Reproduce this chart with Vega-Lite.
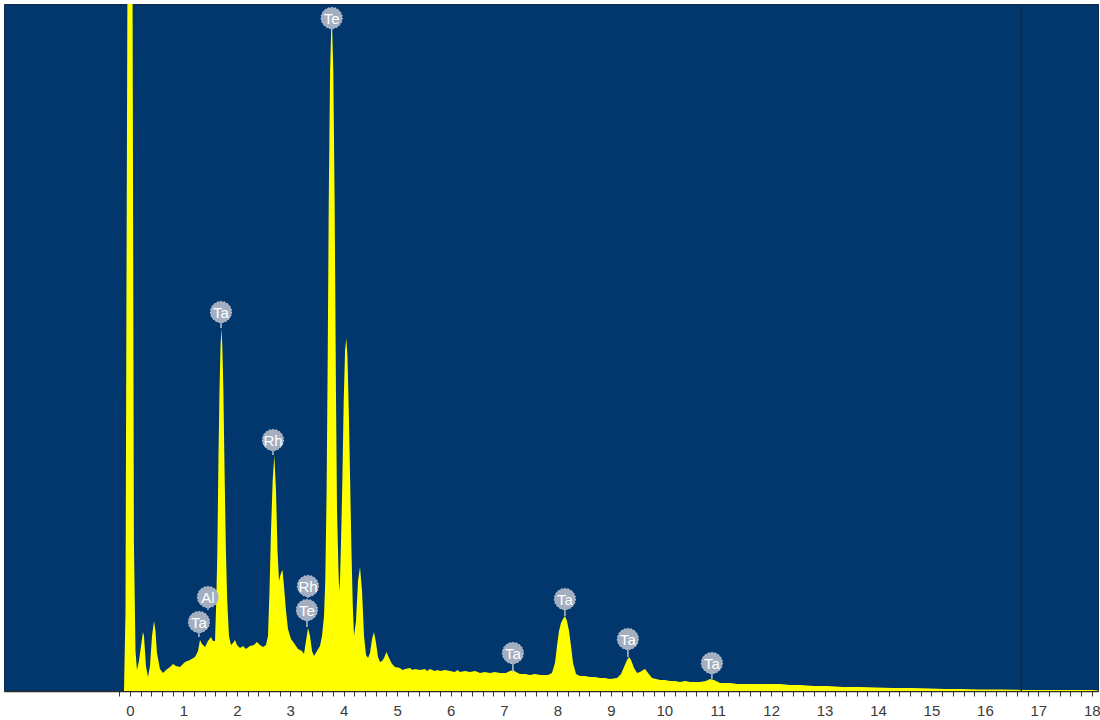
{
  "$schema": "https://vega.github.io/schema/vega-lite/v6.json",
  "autosize": {"type": "none"},
  "width": 1094,
  "height": 687,
  "padding": {"left": 4, "top": 4, "right": 2, "bottom": 29},
  "background": "white",
  "config": {
    "view": {"fill": "#02376e", "stroke": "#0d2a4a", "strokeWidth": 1},
    "axis": {"labelFont": "Liberation Sans", "labelFontSize": 15, "labelColor": "#3a3a3a", "domainColor": "#2b2b2b", "tickColor": "#333333", "grid": false}
  },
  "datasets": {
    "spectrum": [
      {"e": -0.112, "c": 0}, {"e": -0.084, "c": 80}, {"e": -0.066, "c": 400}, {"e": -0.047, "c": 720},
      {"e": 0.047, "c": 720}, {"e": 0.073, "c": 150}, {"e": 0.103, "c": 40}, {"e": 0.131, "c": 21},
      {"e": 0.168, "c": 30}, {"e": 0.206, "c": 45}, {"e": 0.243, "c": 59}, {"e": 0.262, "c": 55},
      {"e": 0.299, "c": 25}, {"e": 0.337, "c": 14}, {"e": 0.374, "c": 25}, {"e": 0.412, "c": 55},
      {"e": 0.449, "c": 70}, {"e": 0.477, "c": 60}, {"e": 0.505, "c": 38}, {"e": 0.561, "c": 22},
      {"e": 0.618, "c": 18}, {"e": 0.674, "c": 21}, {"e": 0.749, "c": 24}, {"e": 0.805, "c": 27},
      {"e": 0.861, "c": 25}, {"e": 0.936, "c": 24}, {"e": 1.029, "c": 29}, {"e": 1.123, "c": 31},
      {"e": 1.217, "c": 34}, {"e": 1.273, "c": 40}, {"e": 1.310, "c": 51}, {"e": 1.348, "c": 47},
      {"e": 1.404, "c": 44}, {"e": 1.460, "c": 50}, {"e": 1.516, "c": 54}, {"e": 1.553, "c": 50},
      {"e": 1.591, "c": 50}, {"e": 1.615, "c": 90}, {"e": 1.635, "c": 140}, {"e": 1.655, "c": 230},
      {"e": 1.675, "c": 300}, {"e": 1.695, "c": 345}, {"e": 1.712, "c": 363}, {"e": 1.728, "c": 345},
      {"e": 1.748, "c": 300}, {"e": 1.770, "c": 220}, {"e": 1.795, "c": 140}, {"e": 1.820, "c": 90},
      {"e": 1.853, "c": 55}, {"e": 1.890, "c": 46}, {"e": 1.928, "c": 48}, {"e": 1.965, "c": 51},
      {"e": 2.003, "c": 46}, {"e": 2.059, "c": 43}, {"e": 2.115, "c": 45}, {"e": 2.171, "c": 42},
      {"e": 2.246, "c": 45}, {"e": 2.321, "c": 46}, {"e": 2.377, "c": 49}, {"e": 2.433, "c": 46},
      {"e": 2.490, "c": 44}, {"e": 2.546, "c": 46}, {"e": 2.583, "c": 55}, {"e": 2.611, "c": 100},
      {"e": 2.639, "c": 160}, {"e": 2.671, "c": 211}, {"e": 2.701, "c": 236}, {"e": 2.733, "c": 200},
      {"e": 2.761, "c": 140}, {"e": 2.789, "c": 110}, {"e": 2.826, "c": 118}, {"e": 2.854, "c": 121},
      {"e": 2.882, "c": 105}, {"e": 2.920, "c": 80}, {"e": 2.957, "c": 62}, {"e": 3.013, "c": 52},
      {"e": 3.069, "c": 48}, {"e": 3.144, "c": 42}, {"e": 3.219, "c": 40}, {"e": 3.257, "c": 37},
      {"e": 3.294, "c": 50}, {"e": 3.332, "c": 63}, {"e": 3.369, "c": 55}, {"e": 3.407, "c": 40},
      {"e": 3.444, "c": 35}, {"e": 3.500, "c": 40}, {"e": 3.556, "c": 45}, {"e": 3.594, "c": 55},
      {"e": 3.631, "c": 75}, {"e": 3.655, "c": 110}, {"e": 3.680, "c": 200}, {"e": 3.700, "c": 330},
      {"e": 3.720, "c": 490}, {"e": 3.745, "c": 620}, {"e": 3.765, "c": 661}, {"e": 3.785, "c": 661},
      {"e": 3.805, "c": 620}, {"e": 3.830, "c": 490}, {"e": 3.855, "c": 300}, {"e": 3.875, "c": 180},
      {"e": 3.900, "c": 125}, {"e": 3.915, "c": 100}, {"e": 3.930, "c": 110}, {"e": 3.950, "c": 150},
      {"e": 3.975, "c": 211}, {"e": 4.000, "c": 290}, {"e": 4.025, "c": 340}, {"e": 4.048, "c": 353},
      {"e": 4.070, "c": 335}, {"e": 4.095, "c": 280}, {"e": 4.120, "c": 211}, {"e": 4.145, "c": 140},
      {"e": 4.170, "c": 85}, {"e": 4.193, "c": 55}, {"e": 4.230, "c": 70}, {"e": 4.268, "c": 110},
      {"e": 4.305, "c": 124}, {"e": 4.343, "c": 100}, {"e": 4.380, "c": 55}, {"e": 4.418, "c": 36},
      {"e": 4.455, "c": 33}, {"e": 4.492, "c": 38}, {"e": 4.530, "c": 52}, {"e": 4.567, "c": 59},
      {"e": 4.605, "c": 48}, {"e": 4.642, "c": 34}, {"e": 4.680, "c": 29}, {"e": 4.717, "c": 30},
      {"e": 4.755, "c": 33}, {"e": 4.801, "c": 39}, {"e": 4.848, "c": 33}, {"e": 4.904, "c": 27},
      {"e": 4.960, "c": 24}, {"e": 5.053, "c": 23}, {"e": 5.100, "c": 21}, {"e": 5.150, "c": 22},
      {"e": 5.240, "c": 23}, {"e": 5.290, "c": 21}, {"e": 5.330, "c": 22}, {"e": 5.428, "c": 21},
      {"e": 5.520, "c": 22}, {"e": 5.560, "c": 20}, {"e": 5.615, "c": 22}, {"e": 5.700, "c": 20},
      {"e": 5.760, "c": 21}, {"e": 5.802, "c": 20}, {"e": 5.900, "c": 21}, {"e": 5.989, "c": 20},
      {"e": 6.080, "c": 19}, {"e": 6.130, "c": 21}, {"e": 6.176, "c": 19}, {"e": 6.270, "c": 20},
      {"e": 6.363, "c": 19}, {"e": 6.460, "c": 20}, {"e": 6.551, "c": 18}, {"e": 6.640, "c": 19},
      {"e": 6.738, "c": 18}, {"e": 6.830, "c": 19}, {"e": 6.925, "c": 18}, {"e": 7.037, "c": 18},
      {"e": 7.112, "c": 20}, {"e": 7.168, "c": 21}, {"e": 7.224, "c": 19}, {"e": 7.299, "c": 17},
      {"e": 7.400, "c": 17}, {"e": 7.486, "c": 16}, {"e": 7.580, "c": 17}, {"e": 7.674, "c": 16},
      {"e": 7.823, "c": 16}, {"e": 7.898, "c": 18}, {"e": 7.954, "c": 28}, {"e": 7.992, "c": 45},
      {"e": 8.029, "c": 60}, {"e": 8.067, "c": 68}, {"e": 8.104, "c": 72}, {"e": 8.142, "c": 75},
      {"e": 8.179, "c": 70}, {"e": 8.217, "c": 60}, {"e": 8.254, "c": 45}, {"e": 8.292, "c": 28},
      {"e": 8.348, "c": 17}, {"e": 8.423, "c": 15}, {"e": 8.520, "c": 15}, {"e": 8.610, "c": 14},
      {"e": 8.700, "c": 14}, {"e": 8.797, "c": 13}, {"e": 8.890, "c": 13}, {"e": 8.984, "c": 12},
      {"e": 9.115, "c": 13}, {"e": 9.190, "c": 17}, {"e": 9.246, "c": 24}, {"e": 9.302, "c": 31},
      {"e": 9.340, "c": 34}, {"e": 9.377, "c": 31}, {"e": 9.434, "c": 23}, {"e": 9.490, "c": 18},
      {"e": 9.546, "c": 19}, {"e": 9.602, "c": 21}, {"e": 9.640, "c": 22}, {"e": 9.696, "c": 18},
      {"e": 9.771, "c": 13}, {"e": 9.920, "c": 11}, {"e": 10.010, "c": 11}, {"e": 10.107, "c": 10},
      {"e": 10.200, "c": 10}, {"e": 10.294, "c": 9}, {"e": 10.390, "c": 10}, {"e": 10.481, "c": 9},
      {"e": 10.580, "c": 9}, {"e": 10.668, "c": 9}, {"e": 10.780, "c": 10}, {"e": 10.855, "c": 12},
      {"e": 10.930, "c": 11}, {"e": 11.043, "c": 8}, {"e": 11.140, "c": 8}, {"e": 11.230, "c": 8},
      {"e": 11.370, "c": 7}, {"e": 11.510, "c": 7}, {"e": 11.650, "c": 7}, {"e": 11.791, "c": 7},
      {"e": 11.980, "c": 7}, {"e": 12.165, "c": 7}, {"e": 12.350, "c": 6}, {"e": 12.540, "c": 6},
      {"e": 12.800, "c": 5}, {"e": 13.045, "c": 5}, {"e": 13.350, "c": 4}, {"e": 13.663, "c": 4},
      {"e": 13.970, "c": 3.5}, {"e": 14.280, "c": 3}, {"e": 14.620, "c": 3}, {"e": 14.973, "c": 2.5},
      {"e": 15.250, "c": 2}, {"e": 15.534, "c": 2}, {"e": 15.900, "c": 1.5}, {"e": 16.283, "c": 1.5},
      {"e": 16.788, "c": 1}, {"e": 17.406, "c": 1}, {"e": 18.023, "c": 1}, {"e": 18.117, "c": 0.5}
    ],
    "labels": [
      {"el": "Te", "e": 3.775, "c": 673, "tip": 661},
      {"el": "Ta", "e": 1.703, "c": 379, "tip": 363},
      {"el": "Rh", "e": 2.676, "c": 251, "tip": 236},
      {"el": "Al", "e": 1.460, "c": 94, "tip": 81},
      {"el": "Ta", "e": 1.291, "c": 69, "tip": 54},
      {"el": "Rh", "e": 3.331, "c": 105, "tip": 93},
      {"el": "Te", "e": 3.312, "c": 81, "tip": 64},
      {"el": "Ta", "e": 8.140, "c": 92, "tip": 75},
      {"el": "Ta", "e": 7.167, "c": 38, "tip": 19},
      {"el": "Ta", "e": 9.319, "c": 52, "tip": 34},
      {"el": "Ta", "e": 10.891, "c": 28, "tip": 12}
    ],
    "marker": [{"e": 16.68}]
  },
  "layer": [
    {
      "data": {"name": "spectrum"},
      "mark": {"type": "area", "color": "#ffff00", "clip": true, "interpolate": "linear"},
      "encoding": {
        "x": {"field": "e", "type": "quantitative", "scale": {"domain": [-2.358, 18.117], "nice": false, "zero": false},
          "axis": {"title": null, "tickCount": 500, "values": [-0.2,0,0.2,0.4,0.6,0.8,1,1.2,1.4,1.6,1.8,2,2.2,2.4,2.6,2.8,3,3.2,3.4,3.6,3.8,4,4.2,4.4,4.6,4.8,5,5.2,5.4,5.6,5.8,6,6.2,6.4,6.6,6.8,7,7.2,7.4,7.6,7.8,8,8.2,8.4,8.6,8.8,9,9.2,9.4,9.6,9.8,10,10.2,10.4,10.6,10.8,11,11.2,11.4,11.6,11.8,12,12.2,12.4,12.6,12.8,13,13.2,13.4,13.6,13.8,14,14.2,14.4,14.6,14.8,15,15.2,15.4,15.6,15.8,16,16.2,16.4,16.6,16.8,17,17.2,17.4,17.6,17.8,18],
            "labelExpr": "abs(datum.value - round(datum.value)) < 0.01 && datum.value >= 0 ? format(round(datum.value), 'd') : ''",
            "tickSize": 5, "labelPadding": 7, "labelFlush": false, "labelOverlap": false, "domainWidth": 1.5}},
        "y": {"field": "c", "type": "quantitative", "scale": {"domain": [0, 687], "nice": false}, "axis": null}
      }
    },
    {
      "data": {"name": "marker"},
      "mark": {"type": "rule", "color": "#1a2a36", "strokeWidth": 1.5},
      "encoding": {"x": {"field": "e", "type": "quantitative"}}
    },
    {
      "data": {"name": "labels"},
      "mark": {"type": "rule", "color": "#b4c0d0", "strokeWidth": 1.5},
      "encoding": {
        "x": {"field": "e", "type": "quantitative"},
        "y": {"field": "c", "type": "quantitative"},
        "y2": {"field": "tip"}
      }
    },
    {
      "data": {"name": "labels"},
      "mark": {"type": "point", "shape": "circle", "filled": true, "size": 450, "color": "#a3afc0", "opacity": 1, "stroke": "#d4dbe4", "strokeWidth": 1, "strokeDash": [1.5, 2]},
      "encoding": {
        "x": {"field": "e", "type": "quantitative"},
        "y": {"field": "c", "type": "quantitative"}
      }
    },
    {
      "data": {"name": "labels"},
      "mark": {"type": "text", "color": "#ffffff", "font": "Liberation Sans", "fontSize": 15, "align": "center", "baseline": "middle", "dy": 1},
      "encoding": {
        "x": {"field": "e", "type": "quantitative"},
        "y": {"field": "c", "type": "quantitative"},
        "text": {"field": "el"}
      }
    }
  ]
}
